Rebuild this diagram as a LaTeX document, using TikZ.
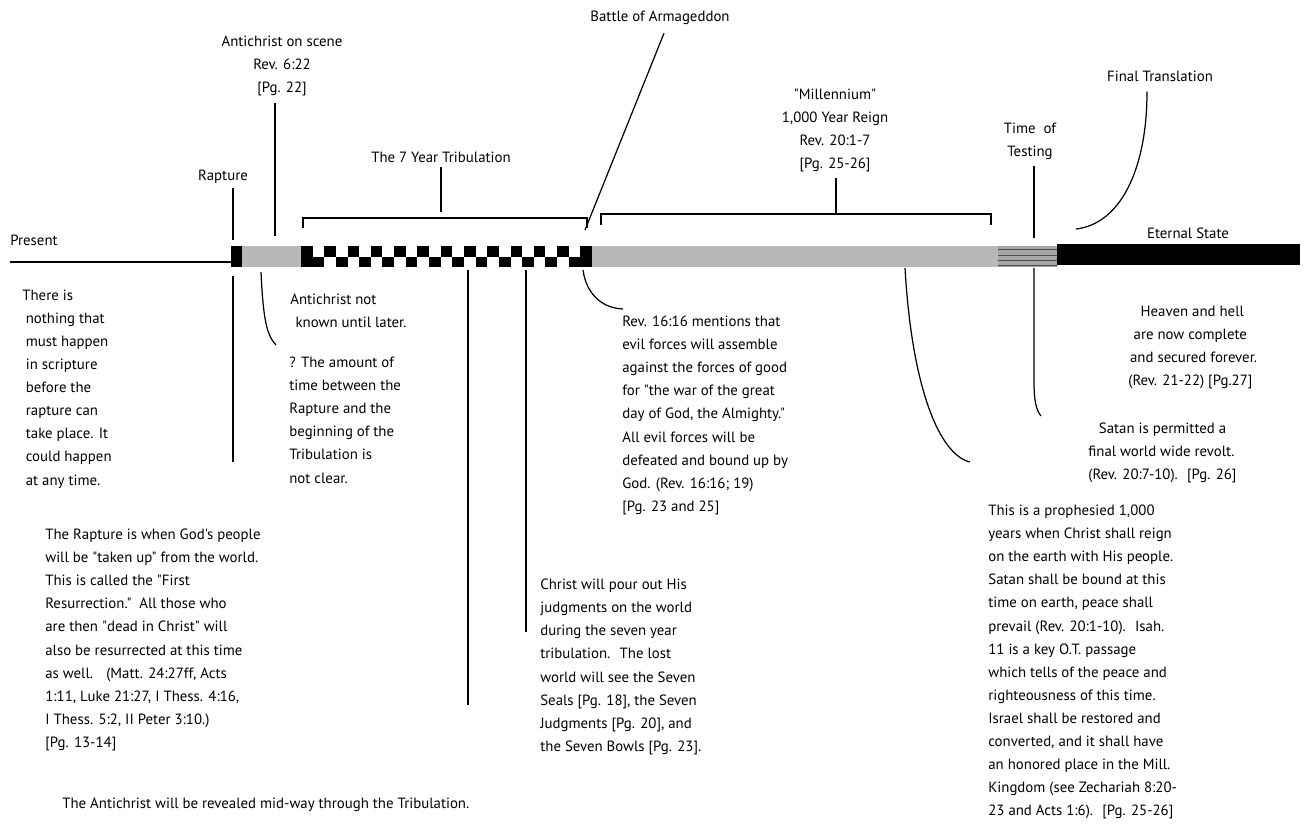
\documentclass[tikz,border=0pt]{standalone}
\usepackage{fontspec}
\setmainfont{PT Sans}[Ligatures=TeXOff]
\usetikzlibrary{patterns}
\tikzset{
  body/.style={font=\fontsize{8.45}{13.1}\selectfont,align=left,inner sep=0pt,anchor=north west},
  head/.style={font=\fontsize{8.45}{13.1}\selectfont,align=center,inner sep=0pt},
  lead/.style={line width=0.7pt},
}
\begin{document}
\begin{tikzpicture}[x=0.02cm,y=-0.02cm]
\useasboundingbox (0,0) rectangle (1314,825);
% the time line
\coordinate (start) at (10,262);
\coordinate (now) at (231,262);
\draw[lead] (start) -- (now);
\fill[black] (231,246) rectangle (242,267);
\fill[black!28] (242,246) rectangle (301,267);
\fill[black] (301,246) rectangle (312.64,267);
\foreach \i in {1,3,...,23}
 \fill[black] (301+\i*11.64,256.5) rectangle (312.64+\i*11.64,267);
\foreach \i in {2,4,...,22}
 \fill[black] (301+\i*11.64,246) rectangle (312.64+\i*11.64,256.5);
\fill[black] (580.36,246) rectangle (592,267);
\fill[black!28] (592,246) rectangle (998,267);
\fill[black!35] (998,246) rectangle (1057,267);
\fill[pattern=horizontal lines,pattern color=black!70] (998,246) rectangle (1057,267);
\fill[black] (1057,244) rectangle (1300,265);

% labels above
\node[head,anchor=west] (present) at (10,240) {Present};
\node[head] (rapture) at (223,177) {Rapture};
\node[head] (acscene) at (282,66) {Antichrist on scene\\Rev. 6:22\\{}[Pg. 22]};
\node[head] (trib) at (441,157) {The 7 Year Tribulation};
\node[head] (battle) at (660,18) {Battle of Armageddon};
\node[head] (mill) at (835,130) {"Millennium"\\1,000 Year Reign\\Rev. 20:1-7\\{}[Pg. 25-26]};
\node[head] (testing) at (1030,141) {Time~ of\\Testing};
\node[head] (final) at (1160,76) {Final Translation};
\node[head] (eternal) at (1188,233) {Eternal State};

\coordinate (rapA) at (233,240);
\coordinate (acA) at (275,236);
\coordinate (tribL) at (303,228);
\coordinate (tribR) at (587,228);
\coordinate (millL) at (601,225);
\coordinate (millR) at (991,225);
\coordinate (testA) at (1034,238);
\coordinate (finalA) at (1076,229);
\draw[lead] (rapA |- 0,188) -- (rapA);
\draw[lead] (acA |- 0,103) -- (acA);
\draw[lead] (tribL) -- ++(0,-10) -| (tribR);
\draw[lead] (trib.south) ++(0,4) -- (441,212);
\draw[lead] (battle.south) ++(4,8) -- (585,230);
\draw[lead] (millL) -- ++(0,-11) -| (millR);
\draw[lead] (mill.south) ++(1,6) -- (836,214);
\draw[lead] (testA |- 0,166) -- (testA);
\draw[lead] (final.south) ++(-13,10) .. controls (1147,170) and (1120,224) .. (finalA);

% notes below
\node[body] (nothing) at (22,290) {There is\\\hspace*{2pt}nothing that\\\hspace*{2pt}must happen\\\hspace*{2pt}in scripture\\\hspace*{2pt}before the\\\hspace*{2pt}rapture can\\\hspace*{2pt}take place. It\\\hspace*{2pt}could happen\\\hspace*{2pt}at any time.};
\node[body] (notknown) at (290,294) {Antichrist not\\\hspace*{3pt}known until later.};
\node[body] (amount) at (289,357) {? The amount of\\time between the\\Rapture and the\\beginning of the\\Tribulation is\\not clear.};
\node[body] (armtxt) at (622,316) {Rev. 16:16 mentions that\\evil forces will assemble\\against the forces of good\\for "the war of the great\\day of God, the Almighty."\\All evil forces will be\\defeated and bound up by\\God. (Rev. 16:16; 19)\\{}[Pg. 23 and 25]};
\node[body] (heaven) at (1128,306) {\hspace*{7pt}Heaven and hell\\\hspace*{3pt}are now complete\\\hspace*{1pt}and secured forever.\\(Rev. 21-22) [Pg.27]};
\node[body] (satan) at (1088,423) {\hspace*{6pt}Satan is permitted a\\final world wide revolt.\\(Rev. 20:7-10).~ [Pg. 26]};
\node[body] (reign) at (988,505) {This is a prophesied 1,000\\years when Christ shall reign\\on the earth with His people.\\Satan shall be bound at this\\time on earth, peace shall\\prevail (Rev. 20:1-10).~ Isah.\\11 is a key O.T. passage\\which tells of the peace and\\righteousness of this time.\\Israel shall be restored and\\converted, and it shall have\\an honored place in the Mill.\\Kingdom (see Zechariah 8:20-\\23 and Acts 1:6).~ [Pg. 25-26]};
\node[body] (raptxt) at (45,529) {The Rapture is when God's people\\will be "taken up" from the world.\\This is called the "First\\Resurrection."~ All those who\\are then "dead in Christ" will\\also be resurrected at this time\\as well.~~ (Matt. 24:27ff, Acts\\1:11, Luke 21:27, I Thess. 4:16,\\I Thess. 5:2, II Peter 3:10.)\\{}[Pg. 13-14]};
\node[body] (pour) at (540,579) {Christ will pour out His\\judgments on the world\\during the seven year\\tribulation.~ The lost\\world will see the Seven\\Seals [Pg. 18], the Seven\\Judgments [Pg. 20], and\\the Seven Bowls [Pg. 23].};
\node[body] (reveal) at (62,798) {The Antichrist will be revealed mid-way through the Tribulation.};

\coordinate (rapB) at (233,276);
\coordinate (gapB) at (261,272);
\coordinate (tribB) at (468,270);
\coordinate (tribC) at (526,270);
\coordinate (battleB) at (583,270);
\coordinate (millB) at (905,268);
\coordinate (testB) at (1034,268);
\draw[lead] (rapB) -- (233,462);
\draw[lead] (gapB) .. controls (263,315) and (266,335) .. (276,345);
\draw[lead] (tribB) -- (468,705);
\draw[lead] (tribC) -- (526,632);
\draw[lead] (battleB) .. controls (586,292) and (600,308) .. (623,309);
\draw[lead] (millB) .. controls (912,390) and (940,455) .. (970,462);
\draw[lead] (testB) -- (1034,382) .. controls (1034,400) and (1036,410) .. (1041,416);
\end{tikzpicture}
\end{document}
